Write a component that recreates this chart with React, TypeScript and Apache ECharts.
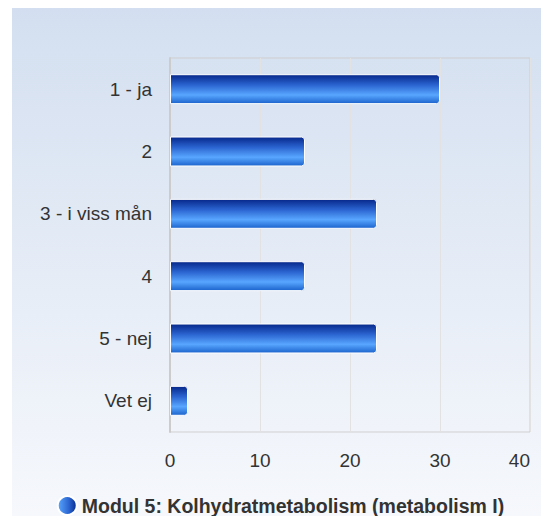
import React, { useEffect, useRef } from "react";
import * as echarts from "echarts";

const categories = ["1 - ja", "2", "3 - i viss mån", "4", "5 - nej", "Vet ej"];
const values = [30, 15, 23, 15, 23, 2];
const seriesName = "Modul 5: Kolhydratmetabolism (metabolism I)";
const xTicks = [0, 10, 20, 30, 40];

export default function App() {
  const ref = useRef<HTMLDivElement>(null);
  useEffect(() => {
    if (!ref.current) return;
    const chart = echarts.init(ref.current, undefined, { renderer: "svg" });
    const barGrad = new echarts.graphic.LinearGradient(0, 0, 0, 1, [
      { offset: 0, color: "#06278a" },
      { offset: 0.35, color: "#2a63cf" },
      { offset: 0.7, color: "#58a6ff" },
      { offset: 1, color: "#1b63cc" },
    ]);
    const iconGrad = new echarts.graphic.LinearGradient(0, 0, 1, 0, [
      { offset: 0, color: "#5aa8ff" },
      { offset: 0.6, color: "#2a63cf" },
      { offset: 1, color: "#062a8a" },
    ]);
    chart.setOption({
      animation: false,
      backgroundColor: "transparent",
      textStyle: { fontFamily: "Liberation Sans, Arial, sans-serif" },
      grid: {
        left: 158,
        right: 19,
        top: 50,
        bottom: 84,
        show: true,
        borderColor: "#cfcfcf",
        borderWidth: 1,
        backgroundColor: "transparent",
      },
      legend: {
        bottom: -5,
        left: "center",
        itemWidth: 19,
        itemHeight: 19,
        itemGap: 8,
        icon: "circle",
        textStyle: { fontSize: 19.5, fontWeight: "bold", color: "#333" },
        data: [{ name: seriesName, itemStyle: { color: iconGrad } }],
      },
      xAxis: {
        type: "value",
        min: xTicks[0],
        max: xTicks[xTicks.length - 1],
        interval: 10,
        axisLine: { show: false },
        axisTick: { show: false },
        splitLine: { lineStyle: { color: "#e2e2e2" } },
        axisLabel: {
          fontSize: 19,
          color: "#333",
          margin: 19,
          formatter: (v: number) => (xTicks.includes(v) ? String(v) : ""),
          alignMaxLabel: "right",
        },
      },
      yAxis: {
        type: "category",
        inverse: true,
        data: categories,
        axisLine: { show: true, lineStyle: { color: "#cccccc", width: 2 } },
        axisTick: { show: false },
        axisLabel: { fontSize: 19, color: "#333", margin: 18 },
      },
      series: [
        {
          name: seriesName,
          type: "bar",
          data: values,
          barWidth: "48%",
          itemStyle: {
            color: barGrad,
            borderColor: "#ffffff",
            borderWidth: 1,
            borderRadius: [0, 3, 3, 0],
          },
        },
      ],
    });
    return () => chart.dispose();
  }, []);
  return (
    <div
      style={{
        marginLeft: 4,
        width: 537,
        height: 508,
        background: "linear-gradient(to bottom, #d3dff0 0%, #f6f8fc 100%)",
      }}
    >
      <div ref={ref} style={{ width: 537, height: 508 }} />
    </div>
  );
}
